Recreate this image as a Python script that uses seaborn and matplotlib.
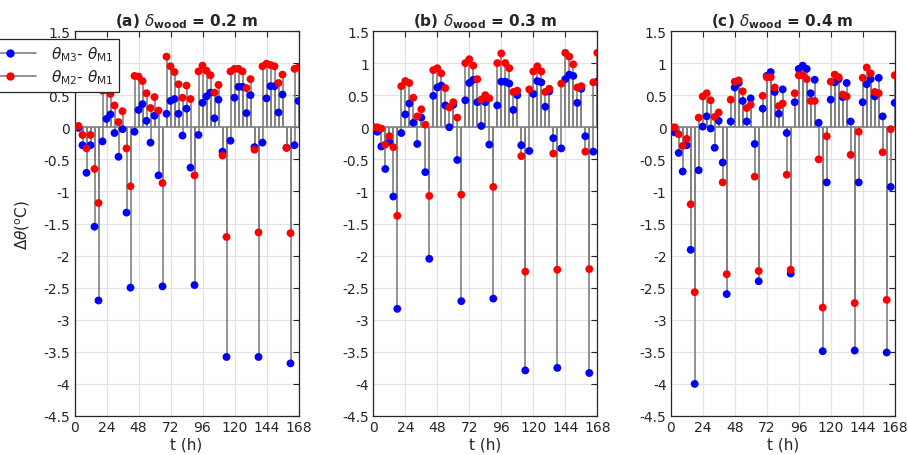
import numpy as np
import pandas as pd
import matplotlib
matplotlib.use('Agg')
import matplotlib.pyplot as plt
from matplotlib.lines import Line2D
import seaborn as sns

# sampling times (h), one value every 3 h over the week
hours = list(range(0, 169, 3))

# (a) delta_wood = 0.2 m
a_m3 = [0, -0.01, -0.28, -0.71, -0.28, -1.55, -2.70,
        -0.22, 0.13, 0.20, -0.09, -0.46, -0.03, -1.33, -2.50,
        -0.07, 0.27, 0.36, 0.10, -0.24, 0.18, -0.75, -2.48,
        0.21, 0.41, 0.44, 0.21, -0.13, 0.29, -0.63, -2.46,
        -0.12, 0.38, 0.48, 0.54, 0.14, 0.43, -0.38, -3.58,
        -0.21, 0.46, 0.63, 0.63, 0.22, 0.50, -0.31, -3.58,
        -0.24, 0.45, 0.64, 0.64, 0.23, 0.51, -0.32, -3.68,
        -0.28, 0.41]
a_m2 = [0, 0.02, -0.12, -0.33, -0.12, -0.65, -1.18,
        0.57, 0.58, 0.52, 0.34, 0.08, 0.25, -0.33, -0.92,
        0.80, 0.79, 0.72, 0.53, 0.30, 0.47, 0.26, -0.87,
        1.10, 0.95, 0.86, 0.67, 0.46, 0.65, 0.44, -0.75,
        0.87, 0.96, 0.88, 0.81, 0.54, 0.66, -0.44, -1.71,
        0.87, 0.91, 0.91, 0.87, 0.61, 0.75, -0.35, -1.64,
        0.95, 0.99, 0.97, 0.95, 0.69, 0.82, -0.32, -1.65,
        0.91, 0.93]

# (b) delta_wood = 0.3 m
b_m3 = [0, -0.07, -0.30, -0.65, -0.23, -1.08, -2.83,
        -0.09, 0.20, 0.37, 0.07, -0.26, 0.15, -0.70, -2.05,
        0.49, 0.62, 0.65, 0.34, 0.00, 0.35, -0.51, -2.71,
        0.42, 0.69, 0.74, 0.39, 0.02, 0.39, -0.27, -2.67,
        0.34, 0.71, 0.71, 0.68, 0.27, 0.50, -0.28, -3.79,
        -0.37, 0.52, 0.72, 0.70, 0.32, 0.56, -0.17, -3.75,
        -0.33, 0.75, 0.82, 0.80, 0.38, 0.60, -0.14, -3.83,
        -0.38, 0.71]
b_m2 = [0, 0.00, -0.02, -0.27, -0.14, -0.31, -1.38,
        0.64, 0.72, 0.69, 0.46, 0.17, 0.28, 0.04, -1.07,
        0.89, 0.92, 0.84, 0.61, 0.31, 0.39, 0.15, -1.05,
        1.00, 1.06, 0.96, 0.75, 0.43, 0.50, 0.45, -0.93,
        1.00, 1.15, 1.00, 0.92, 0.55, 0.57, -0.45, -2.25,
        0.59, 0.87, 0.95, 0.87, 0.55, 0.60, -0.41, -2.22,
        0.68, 1.16, 1.10, 0.98, 0.62, 0.64, -0.38, -2.21,
        0.70, 1.16]

# (c) delta_wood = 0.4 m
c_m3 = [0, -0.08, -0.40, -0.69, -0.28, -1.91, -4.00,
        -0.67, 0.01, 0.17, -0.02, -0.32, 0.10, -0.55, -2.60,
        0.09, 0.62, 0.69, 0.41, 0.09, 0.45, -0.26, -2.40,
        0.29, 0.80, 0.86, 0.55, 0.21, 0.59, -0.09, -2.28,
        0.39, 0.91, 0.96, 0.91, 0.53, 0.74, 0.07, -3.49,
        -0.86, 0.43, 0.70, 0.75, 0.47, 0.69, 0.09, -3.48,
        -0.86, 0.39, 0.67, 0.75, 0.48, 0.77, 0.17, -3.51,
        -0.93, 0.38]
c_m2 = [0, 0.00, -0.11, -0.29, -0.18, -1.20, -2.57,
        0.15, 0.48, 0.53, 0.42, 0.16, 0.23, -0.86, -2.29,
        0.43, 0.71, 0.73, 0.56, 0.30, 0.35, -0.77, -2.24,
        0.49, 0.78, 0.78, 0.62, 0.33, 0.37, -0.74, -2.22,
        0.53, 0.81, 0.81, 0.75, 0.41, 0.41, -0.50, -2.81,
        -0.14, 0.71, 0.82, 0.78, 0.51, 0.48, -0.43, -2.74,
        -0.07, 0.77, 0.93, 0.84, 0.55, 0.53, -0.39, -2.69,
        -0.03, 0.81]

panel_tags = ['(a)', '(b)', '(c)']
wood_thickness = ['0.2', '0.3', '0.4']
x_ticks = [0, 24, 48, 72, 96, 120, 144, 168]
y_ticks = [-4.5, -4, -3.5, -3, -2.5, -2, -1.5, -1, -0.5, 0, 0.5, 1, 1.5]

sns.set_style('whitegrid')
plt.rcParams['font.family'] = ['DejaVu Sans']
plt.rcParams['mathtext.fontset'] = 'dejavusans'

stem_grey = '#808080'
dark = '#262626'
colors = {'M3': '#0000ff', 'M2': '#ff0000'}

fig = plt.figure(figsize=(9.08, 4.56), dpi=100)
lefts = [74.5, 373.3, 670.7]

for i, (m3, m2) in enumerate([(a_m3, a_m2), (b_m3, b_m2), (c_m3, c_m2)]):
    ax = fig.add_axes([lefts[i] / 908, 39 / 456, 224 / 908, 385 / 456])
    df = pd.DataFrame({'t': hours + hours,
                       'dT': m3 + m2,
                       'series': ['M3'] * len(m3) + ['M2'] * len(m2)})

    # stems + baseline like matlab's stem()
    ax.axhline(0, color=stem_grey, lw=1.2, zorder=2)
    ax.vlines(df['t'], 0, df['dT'], color=stem_grey, lw=1.2, zorder=2)
    sns.scatterplot(data=df, x='t', y='dT', hue='series', palette=colors,
                    s=32, edgecolor='none', legend=False, ax=ax, zorder=3)

    ax.set_xlim(0, 168)
    ax.set_ylim(-4.5, 1.5)
    ax.set_xticks(x_ticks)
    ax.set_yticks(y_ticks)
    ax.set_yticklabels([f'{v:g}' for v in y_ticks])
    ax.set_xlabel('t (h)', fontsize=11, labelpad=2)
    if i == 0:
        ax.set_ylabel(r'$\Delta\theta$($^{\rm o}$C)', fontsize=11, labelpad=8)
    else:
        ax.set_ylabel('')
    ax.set_title(panel_tags[i] + r' $\delta_{\mathbf{wood}}$ = ' + wood_thickness[i] + ' m',
                 fontsize=11, fontweight='bold', pad=4)

    ax.grid(True, color='#e3e3e3', lw=0.9)
    ax.set_axisbelow(True)
    ax.tick_params(direction='in', top=True, right=True, length=4, width=0.8,
                   color=dark, labelcolor=dark, labelsize=10, pad=3)
    for sp in ax.spines.values():
        sp.set_color(dark)
        sp.set_linewidth(0.9)

handles = [Line2D([], [], color=stem_grey, lw=1.2, marker='o', markersize=6,
                  markerfacecolor=colors['M3'], markeredgecolor='none'),
           Line2D([], [], color=stem_grey, lw=1.2, marker='o', markersize=6,
                  markerfacecolor=colors['M2'], markeredgecolor='none')]
labels = [r'$\theta_{\rm M3}$- $\theta_{\rm M1}$', r'$\theta_{\rm M2}$- $\theta_{\rm M1}$']
# legend sits over panel (a) and runs off the left edge, as in the original
leg = fig.legend(handles, labels, loc='upper right', bbox_to_anchor=(119 / 908, 1 - 40 / 456),
                 frameon=True, fancybox=False, framealpha=1, edgecolor=dark,
                 fontsize=11, handlelength=3.4, handletextpad=1.0,
                 borderaxespad=0, borderpad=0.35, labelspacing=0.3)
leg.get_frame().set_linewidth(0.9)

fig.savefig('out.png', dpi=100)
